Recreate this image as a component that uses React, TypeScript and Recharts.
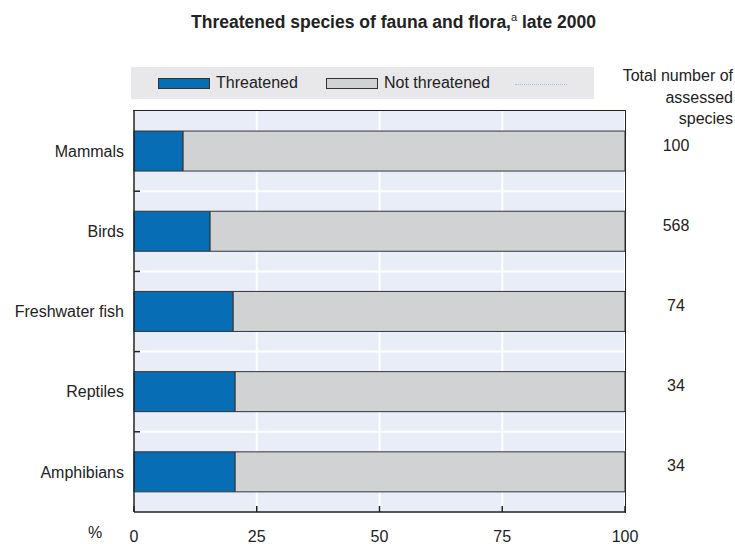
import { BarChart, Bar, XAxis, YAxis, CartesianGrid, LabelList } from "recharts";

const categories = ["Mammals", "Birds", "Freshwater fish", "Reptiles", "Amphibians"];
const threatened = [10, 15.5, 20.2, 20.6, 20.6];
const notThreatened = [90, 84.5, 79.8, 79.4, 79.4];
const totals = [100, 568, 74, 34, 34];
const xTicks = [0, 25, 50, 75, 100];

const BLUE = "#076db5";
const GREY = "#d1d2d4";
const INK = "#222";
const FONT = "'Liberation Sans', Arial, Helvetica, sans-serif";

const data = categories.map((name, i) => ({
  name,
  threatened: threatened[i],
  notThreatened: notThreatened[i],
  total: totals[i],
}));

const legendItems = [
  { label: "Threatened", kind: "box", color: BLUE },
  { label: "Not threatened", kind: "box", color: GREY },
  { label: "", kind: "dots", color: "#9cc3e0" },
];

// x tick: short mark pointing up into the plot, label below
function XTick(props: any) {
  const { x, y, payload } = props;
  const base = y - 8; // tickSize 6 + tickMargin 2
  return (
    <g>
      <line x1={x} y1={base} x2={x} y2={base - 6} stroke={INK} strokeWidth={1.5} />
      <text x={x} y={base + 30} textAnchor="middle" fontSize={16} fill={INK} fontFamily={FONT}>
        {payload.value}
      </text>
    </g>
  );
}

// category label plus the little tick at the band boundary below it
function CatTick(props: any) {
  const { x, y, payload, index } = props;
  const half = payload.offset || 0;
  return (
    <g>
      <text x={x} y={y} dy="0.35em" textAnchor="end" fontSize={16} fill={INK} fontFamily={FONT}>
        {payload.value}
      </text>
      {index < categories.length - 1 && (
        <line x1={x + 10} x2={x + 16} y1={y + half} y2={y + half} stroke={INK} strokeWidth={1.5} />
      )}
    </g>
  );
}

function TotalLabel(props: any) {
  const { x, y, width, height, value } = props;
  return (
    <text x={x + width + 51} y={y + height / 2 - 6} dy="0.35em" textAnchor="middle" fontSize={16} fill={INK} fontFamily={FONT}>
      {value}
    </text>
  );
}

function boundaryLines({ yAxis, offset }: any) {
  const s = yAxis && yAxis.scale;
  if (s && typeof s === "function") {
    const pts = categories.slice(1).map((c) => s(c));
    if (pts.every((p: any) => Number.isFinite(p))) return pts;
  }
  return categories.slice(1).map((_, i) => offset.top + ((i + 1) * offset.height) / categories.length);
}

export default function App() {
  return (
    <div style={{ position: "absolute", left: 0, top: 0, width: 735, height: 544, background: "#fff", fontFamily: FONT, color: INK }}>
      <div style={{ position: "absolute", left: 0, width: 735, top: 11, textAlign: "center", paddingLeft: 52, boxSizing: "border-box", fontWeight: "bold", fontSize: 17.5 }}>
        Threatened species of fauna and flora,<sup style={{ fontWeight: "normal", fontSize: 11 }}>a</sup> late 2000
      </div>

      <div style={{ position: "absolute", left: 131, top: 67, width: 463, height: 32, background: "#e8e8ea" }}>
        {legendItems.map((item, i) => (
          <div key={i} style={{ position: "absolute", left: [27, 195, 384][i], top: 0, height: 32, display: "flex", alignItems: "center", fontSize: 16 }}>
            {item.kind === "box" ? (
              <span style={{ display: "inline-block", width: 50, height: 9, background: item.color, border: "1px solid #333", marginRight: 6 }} />
            ) : (
              <span style={{ display: "inline-block", width: 52, height: 0, borderTop: `1px dotted ${item.color}`, marginTop: 2 }} />
            )}
            {item.label}
          </div>
        ))}
      </div>

      <div style={{ position: "absolute", right: 2, top: 65, textAlign: "right", fontSize: 16, lineHeight: "21.5px" }}>
        Total number of
        <br />
        assessed
        <br />
        species
      </div>

      <div style={{ position: "absolute", left: 88, top: 524, fontSize: 16 }}>%</div>

      <div style={{ position: "absolute", left: 0, top: 0 }}>
        <BarChart
          width={735}
          height={544}
          data={data}
          layout="vertical"
          margin={{ top: 111, right: 110, bottom: 0, left: 0 }}
          barCategoryGap="25%"
        >
          <CartesianGrid
            fill="#e8edf7"
            stroke="#ffffff"
            strokeWidth={2}
            horizontalCoordinatesGenerator={boundaryLines}
          />
          <XAxis
            type="number"
            domain={[0, 100]}
            ticks={xTicks}
            height={32}
            axisLine={{ stroke: INK, strokeWidth: 1.5 }}
            tickLine={false}
            tick={<XTick />}
            interval={0}
          />
          <YAxis
            type="category"
            dataKey="name"
            width={134}
            axisLine={{ stroke: INK, strokeWidth: 1.5 }}
            tickLine={false}
            tickMargin={10}
            tickSize={0}
            tick={<CatTick />}
            interval={0}
          />
          <Bar dataKey="threatened" stackId="a" fill={BLUE} stroke="#333" strokeWidth={1} isAnimationActive={false} />
          <Bar dataKey="notThreatened" stackId="a" fill={GREY} stroke="#333" strokeWidth={1} isAnimationActive={false}>
            <LabelList dataKey="total" content={<TotalLabel />} />
          </Bar>
        </BarChart>
      </div>

      {/* top and right edges of the plot frame */}
      <div style={{ position: "absolute", left: 133, top: 110, width: 492, height: 402, borderTop: `1.5px solid ${INK}`, borderRight: `1.5px solid ${INK}`, pointerEvents: "none" }} />
    </div>
  );
}
